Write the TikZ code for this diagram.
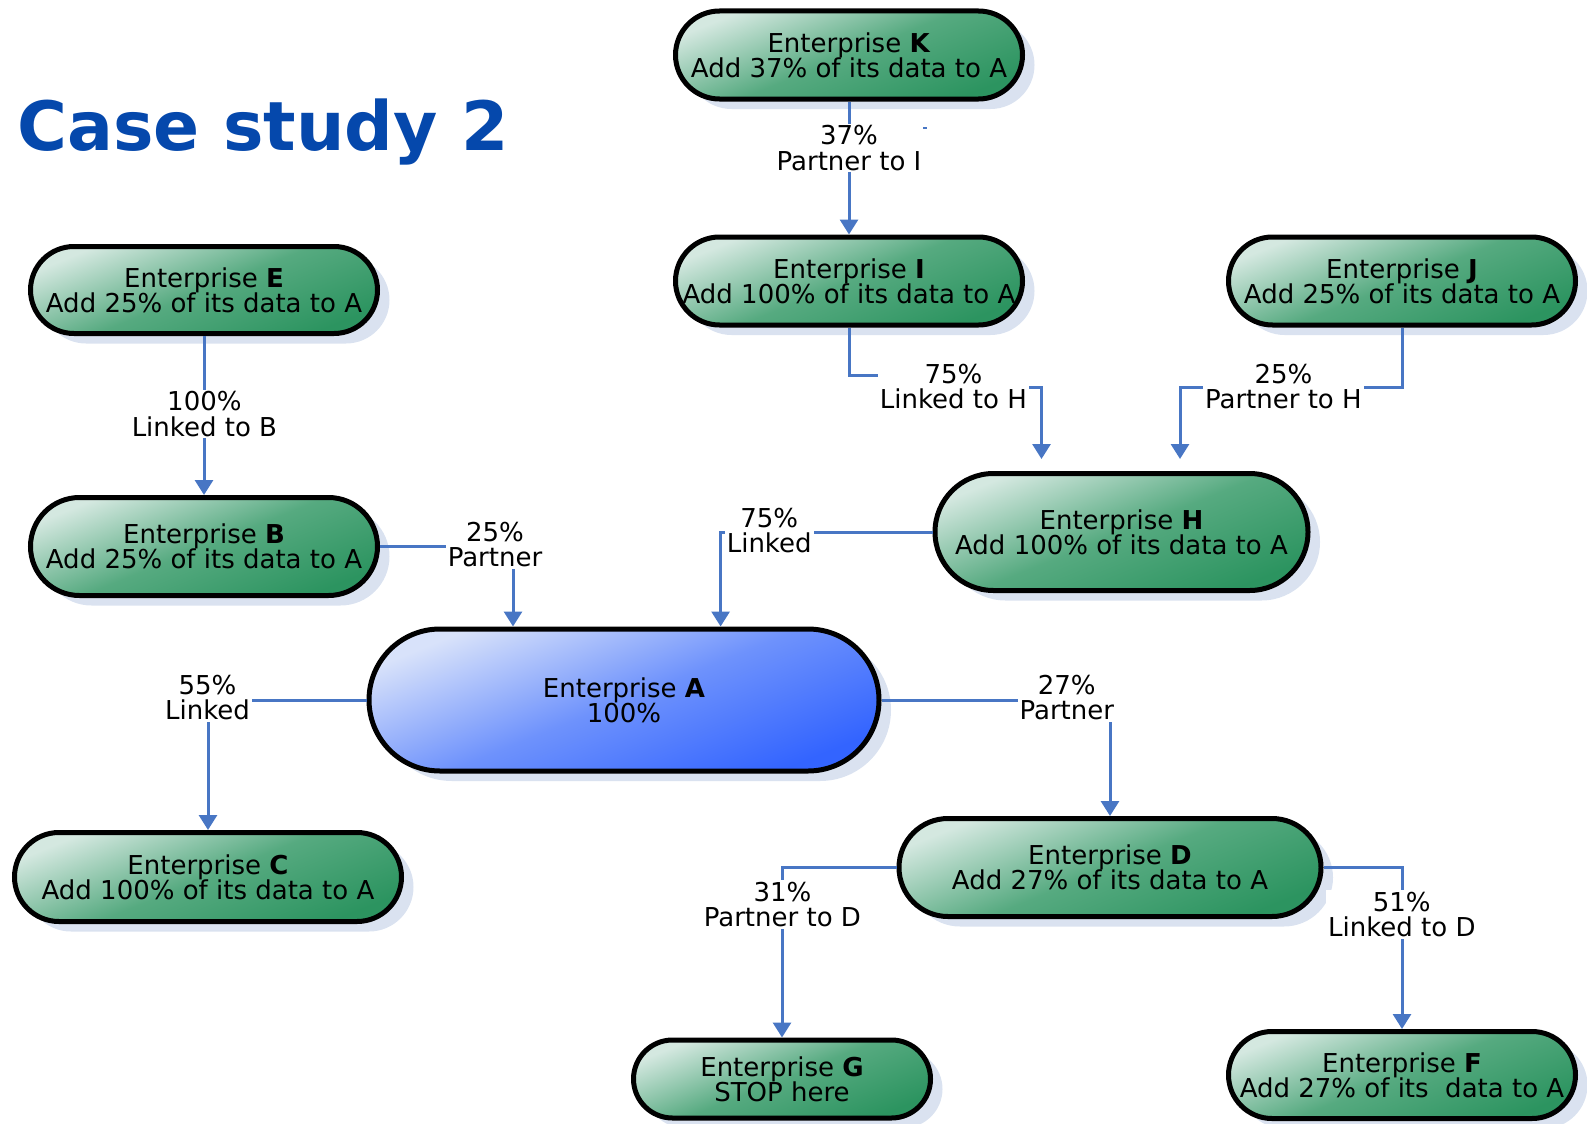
\documentclass[tikz,border=0pt]{standalone}
\usepackage{fontspec}
\setmainfont{DejaVu Sans}
\usetikzlibrary{positioning,arrows.meta,shadows,calc}
\definecolor{entlight}{RGB}{212,232,224}
\definecolor{entmid}{RGB}{86,170,128}
\definecolor{entdark}{RGB}{44,148,96}
\definecolor{alight}{RGB}{216,226,250}
\definecolor{amid}{RGB}{110,146,252}
\definecolor{adark}{RGB}{51,100,255}
\definecolor{shadowblue}{RGB}{218,226,240}
\definecolor{linkblue}{RGB}{72,118,196}
\definecolor{titleblue}{RGB}{5,72,172}

\begin{document}
\begin{tikzpicture}[
    x=1pt, y=-1pt,
    entbox/.style={rectangle, draw=black, line width=5pt, align=center, inner sep=0pt,
      font=\fontsize{26}{25.3}\selectfont,
      drop shadow={shadow xshift=12pt, shadow yshift=-10pt, fill=shadowblue, opacity=1},
      top color=entlight, bottom color=entdark, middle color=entmid, shading angle=22},
    mainbox/.style={entbox, top color=alight, bottom color=adark, middle color=amid, shading angle=22},
    entsize/.style 2 args={minimum width=#1pt, minimum height=#2pt, rounded corners=#2pt/2},
    lbl/.style={fill=white, inner sep=2pt, align=center, font=\fontsize{26}{25.3}\selectfont},
    arrow/.style={-{Triangle[width=18pt,length=15pt]}, line width=3pt, draw=linkblue},
    wire/.style={line width=3pt, draw=linkblue}
]
\useasboundingbox (0,0) rectangle (1587,1124);

\node[anchor=base west, inner sep=0pt, font=\fontsize{68}{68}\selectfont\bfseries, text=titleblue] (title) at (17,150) {Case study 2};

\node[entbox, entsize={347}{88}] (K) at (849,55) {Enterprise \textbf{K}\\Add 37\% of its data to A};
\node[entbox, entsize={347}{88}] (I) at (849,281) {Enterprise \textbf{I}\\Add 100\% of its data to A};
\node[entbox, entsize={347}{88}] (J) at (1402,281) {Enterprise \textbf{J}\\Add 25\% of its data to A};
\node[entbox, entsize={347}{87}] (E) at (204,290) {Enterprise \textbf{E}\\Add 25\% of its data to A};
\node[entbox, entsize={347}{98}] (B) at (204,546.5) {Enterprise \textbf{B}\\Add 25\% of its data to A};
\node[entbox, entsize={373}{117}] (H) at (1121.5,532) {Enterprise \textbf{H}\\Add 100\% of its data to A};
\node[mainbox, entsize={510}{142}] (A) at (624,700) {Enterprise \textbf{A}\\100\%};
\node[entbox, entsize={387}{89}] (C) at (208,877) {Enterprise \textbf{C}\\Add 100\% of its data to A};
\node[entbox, entsize={422}{98}] (D) at (1110,867.5) {Enterprise \textbf{D}\\Add 27\% of its data to A};
\node[entbox, entsize={297}{78}] (G) at (782,1079) {Enterprise \textbf{G}\\STOP here};
\node[entbox, entsize={347}{87}] (F) at (1402,1075) {Enterprise \textbf{F}\\Add 27\% of its\ \ data to A};

\coordinate (ih1) at (953.4,375.5);
\coordinate (ih2) at (1041.5,387.6);
\coordinate (jh) at (1180,387.6);

\draw[arrow] (K) -- (I);
\draw[arrow, shorten >=12pt] (I.south) |- (ih1) |- (ih2) -- (ih2 |- H.north);
\draw[arrow, shorten >=12pt] (J.south) |- (jh) -- (jh |- H.north);
\draw[arrow] (E) -- (B);
\draw[arrow] (B.east) -| ([xshift=-111pt]A.north);
\draw[arrow] (H.west) -| ([xshift=96.6pt]A.north);
\draw[arrow] (A.west) -| (C.north);
\draw[arrow] (A.east) -| (D.north);
\draw[arrow] (D.west) -| (G.north);
\draw[arrow] (D.east) -| (F.north);
\draw[wire, line width=2pt] (921,127.5) -- (927,127.5);

\node[lbl] (lKI) at (849,148) {37\%\\Partner to I};
\node[lbl] (lIH) at (953.4,386.6) {75\%\\Linked to H};
\node[lbl] (lJH) at (1283.4,386.6) {25\%\\Partner to H};
\node[lbl] (lEB) at (204.4,414) {100\%\\Linked to B};
\node[lbl] (lBA) at (495,544.5) {25\%\\Partner};
\node[lbl] (lHA) at (769.2,530.8) {75\%\\Linked};
\node[lbl] (lAC) at (207.5,697.8) {55\%\\Linked};
\node[lbl] (lAD) at (1066.8,697.8) {27\%\\Partner};
\node[lbl] (lDG) at (782.4,904.3) {31\%\\Partner to D};
\node[lbl] (lDF) at (1401.8,914.4) {51\%\\Linked to D};
\end{tikzpicture}
\end{document}
